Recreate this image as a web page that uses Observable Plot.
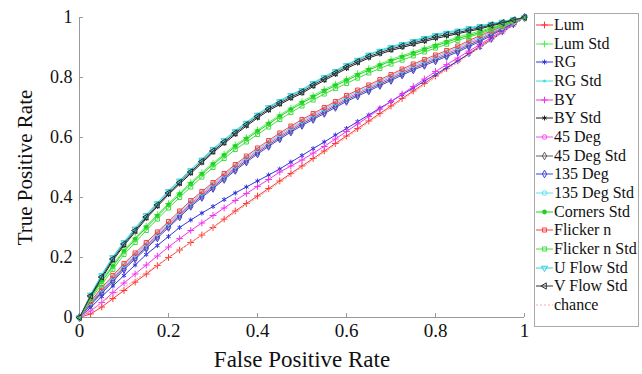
<!DOCTYPE html>
<html><head><meta charset="utf-8">
<script src="https://cdn.jsdelivr.net/npm/d3@7"></script>
<script src="https://cdn.jsdelivr.net/npm/@observablehq/plot@0.6"></script>
<style>
body{margin:0;background:#fff;}
#wrap{position:relative;width:642px;height:374px;font-family:"Liberation Serif","Times New Roman",serif;overflow:hidden;}
#legend{position:absolute;left:534px;top:13px;width:105px;height:314px;border:1px solid #aaa;background:#fff;box-sizing:border-box;}
.row{position:absolute;left:0;height:18px;display:flex;align-items:center;font-family:"Liberation Serif","Times New Roman",serif;font-size:16px;color:#111;white-space:nowrap;}
.row svg{margin-left:1px;margin-right:1px;}
</style></head><body><div id="wrap"><div id="chart"></div><div id="legend"></div></div>
<script>
// False positive rate grid shared by every curve
const fpr = [0,0.025,0.05,0.075,0.10,0.125,0.15,0.175,0.20,0.225,0.25,0.275,0.30,0.325,0.35,0.375,0.40,0.425,0.45,0.475,0.50,
             0.525,0.55,0.575,0.60,0.625,0.65,0.675,0.70,0.725,0.75,0.775,0.80,0.825,0.85,0.875,0.90,0.925,0.95,0.975,1];
// True positive rate for each feature
const lum        = [0,.012,.035,.063,.09,.118,.145,.173,.20,.225,.25,.275,.30,.328,.355,.38,.405,.43,.455,.48,.505,.53,.555,.58,.605,.63,.655,.68,.705,.73,.755,.78,.805,.83,.855,.88,.905,.928,.952,.976,1];
const lumStd     = [0,.068,.125,.175,.225,.265,.305,.343,.38,.415,.45,.483,.515,.545,.575,.60,.625,.65,.675,.698,.72,.74,.76,.778,.795,.813,.83,.845,.86,.873,.885,.898,.91,.922,.935,.945,.955,.966,.977,.989,1];
const rg         = [0,.033,.07,.105,.14,.175,.21,.24,.27,.30,.325,.348,.37,.393,.415,.435,.455,.475,.495,.518,.54,.563,.585,.608,.63,.653,.675,.698,.72,.743,.765,.788,.81,.833,.855,.878,.90,.925,.95,.975,1];
const rgStd      = [0,.078,.143,.203,.253,.298,.343,.383,.423,.458,.493,.528,.563,.593,.623,.651,.678,.703,.723,.743,.76,.783,.803,.823,.843,.861,.878,.891,.903,.913,.923,.933,.943,.951,.958,.966,.973,.98,.987,.994,1];
const by         = [0,.022,.05,.083,.115,.145,.175,.205,.235,.263,.29,.315,.34,.365,.39,.413,.437,.46,.485,.505,.525,.548,.57,.595,.62,.645,.67,.695,.72,.745,.77,.795,.82,.843,.865,.888,.91,.933,.955,.978,1];
const byStd      = [0,.07,.13,.19,.24,.285,.33,.37,.41,.445,.48,.515,.55,.58,.61,.638,.665,.69,.71,.73,.747,.77,.79,.81,.83,.848,.865,.878,.89,.90,.91,.92,.93,.938,.946,.954,.962,.972,.981,.991,1];
const deg45      = [0,.048,.09,.13,.17,.205,.24,.275,.31,.345,.38,.41,.44,.47,.50,.528,.555,.58,.605,.628,.65,.67,.69,.71,.73,.748,.765,.783,.80,.818,.835,.85,.865,.88,.895,.913,.93,.948,.965,.983,1];
const deg45Std   = [0,.045,.085,.125,.165,.20,.235,.27,.305,.34,.375,.405,.435,.465,.495,.523,.55,.575,.60,.623,.645,.665,.685,.705,.725,.743,.76,.778,.795,.813,.83,.845,.86,.875,.89,.908,.925,.944,.962,.981,1];
const deg135     = [0,.042,.08,.12,.16,.195,.23,.265,.30,.335,.37,.40,.43,.46,.49,.518,.545,.57,.595,.618,.64,.66,.68,.70,.72,.738,.755,.773,.79,.808,.825,.84,.855,.87,.885,.903,.92,.94,.96,.98,1];
const deg135Std  = [0,.05,.095,.135,.175,.21,.245,.28,.315,.35,.385,.415,.445,.475,.505,.533,.56,.585,.61,.633,.655,.675,.695,.715,.735,.753,.77,.788,.805,.823,.84,.855,.87,.885,.90,.918,.935,.952,.967,.984,1];
const cornersStd = [0,.065,.12,.17,.22,.26,.30,.338,.375,.41,.445,.478,.51,.54,.57,.595,.62,.645,.67,.693,.715,.735,.755,.773,.79,.808,.825,.84,.855,.868,.88,.893,.905,.918,.93,.94,.95,.963,.975,.988,1];
const flicker    = [0,.053,.10,.14,.18,.215,.25,.285,.32,.355,.39,.42,.45,.48,.51,.538,.565,.59,.615,.638,.66,.68,.70,.72,.74,.758,.775,.793,.81,.828,.845,.86,.875,.89,.905,.923,.94,.955,.97,.985,1];
const flickerStd = [0,.06,.11,.16,.21,.25,.29,.328,.365,.40,.435,.468,.50,.53,.56,.585,.61,.635,.66,.683,.705,.725,.745,.763,.78,.798,.815,.83,.845,.858,.872,.885,.898,.911,.924,.935,.946,.959,.972,.986,1];
const uFlowStd   = [0,.075,.14,.20,.25,.295,.34,.38,.42,.455,.49,.525,.56,.59,.62,.648,.675,.70,.72,.74,.757,.78,.80,.82,.84,.858,.875,.888,.90,.91,.92,.93,.94,.948,.955,.963,.97,.978,.985,.993,1];
const vFlowStd   = [0,.072,.135,.195,.245,.29,.335,.375,.415,.45,.485,.52,.555,.585,.615,.643,.67,.695,.715,.735,.752,.775,.795,.815,.835,.853,.87,.883,.895,.905,.915,.925,.935,.943,.95,.958,.966,.975,.983,.992,1];
const chanceX    = [0,1];
const chanceY    = [0,1];
const xTicks = [0,0.2,0.4,0.6,0.8,1];
const yTicks = [0,0.2,0.4,0.6,0.8,1];

const series = [
  {name:"Lum", tpr:lum, color:"#ff3535", symbol:"plus", filled:false},
  {name:"Lum Std", tpr:lumStd, color:"#55ee55", symbol:"plus", filled:false},
  {name:"RG", tpr:rg, color:"#3535e0", symbol:"asterisk", filled:false},
  {name:"RG Std", tpr:rgStd, color:"#40e0e0", symbol:"circle", filled:true, r:1.5},
  {name:"BY", tpr:by, color:"#f035f0", symbol:"plus", filled:false},
  {name:"BY Std", tpr:byStd, color:"#202020", symbol:"asterisk", filled:false},
  {name:"45 Deg", tpr:deg45, color:"#f050f0", symbol:"circle", filled:false},
  {name:"45 Deg Std", tpr:deg45Std, color:"#606060", symbol:"diamond", filled:false},
  {name:"135 Deg", tpr:deg135, color:"#4040e0", symbol:"diamond", filled:false},
  {name:"135 Deg Std", tpr:deg135Std, color:"#60e0f0", symbol:"circle", filled:false},
  {name:"Corners Std", tpr:cornersStd, color:"#20d020", symbol:"circle", filled:true, r:2.4},
  {name:"Flicker n", tpr:flicker, color:"#ff4040", symbol:"square", filled:false},
  {name:"Flicker n Std", tpr:flickerStd, color:"#40e040", symbol:"square", filled:false},
  {name:"U Flow Std", tpr:uFlowStd, color:"#30d0e0", symbol:"triangle", filled:false, rotate:180},
  {name:"V Flow Std", tpr:vFlowStd, color:"#303030", symbol:"triangle", filled:false, rotate:-90}
];

const marks = [];
const fmt = d => String(+(+d).toFixed(1));
marks.push(Plot.ruleY([0], {stroke:"#999"}));
marks.push(Plot.ruleX([0], {stroke:"#999"}));
marks.push(Plot.axisX({ticks:xTicks, tickSize:-4, stroke:"#999", tickFormat:() => "", label:null}));
marks.push(Plot.axisY({ticks:yTicks, tickSize:-4, stroke:"#999", tickFormat:() => "", label:null}));
marks.push(Plot.axisX({ticks:xTicks, tickSize:0, tickPadding:6, tickFormat:fmt, fontSize:19, fill:"#111", label:null}));
marks.push(Plot.axisY({ticks:yTicks, tickSize:0, tickPadding:7, tickFormat:fmt, fontSize:18, fill:"#111", label:null}));
marks.push(Plot.axisX({ticks:[], label:"False Positive Rate", labelArrow:"none", labelAnchor:"center", labelOffset:49, fontSize:23, fill:"#111"}));
marks.push(Plot.axisY({ticks:[], label:"True Positive Rate", labelArrow:"none", labelAnchor:"center", labelOffset:62, fontSize:21, fill:"#111"}));

for (const s of series) {
  const rows = fpr.map((x, i) => ({x, y: s.tpr[i]}));
  marks.push(Plot.line(rows, {x:"x", y:"y", stroke:s.color, strokeWidth:1}));
  marks.push(Plot.dot(rows, {x:"x", y:"y", symbol:s.symbol, r:s.r ?? 2.3,
    stroke: s.filled ? "none" : s.color, fill: s.filled ? s.color : "none",
    strokeWidth:1, rotate: s.rotate ?? 0}));
}
const chanceRows = chanceX.map((x, i) => ({x, y: chanceY[i]}));
marks.push(Plot.line(chanceRows, {x:"x", y:"y", stroke:"#f0b0a0", strokeWidth:1, strokeDasharray:"2,2"}));

const chart = Plot.plot({
  width:642, height:374,
  marginLeft:79, marginRight:118, marginTop:17, marginBottom:57,
  x:{domain:[0,1]}, y:{domain:[0,1]},
  style:{fontFamily:'"Liberation Serif","Times New Roman",serif', background:"white", color:"#111"},
  marks
});
document.getElementById("chart").appendChild(chart);

// Legend
const symMap = {plus:d3.symbolPlus, asterisk:d3.symbolAsterisk, circle:d3.symbolCircle, diamond:d3.symbolDiamond, square:d3.symbolSquare, triangle:d3.symbolTriangle};
const legend = document.getElementById("legend");
const legendItems = series.concat([{name:"chance", color:"#f0b0a0", dashed:true}]);
legendItems.forEach((s, i) => {
  const row = document.createElement("div");
  row.className = "row";
  row.style.top = (11 + i * 18.67 - 9) + "px";
  const svg = d3.create("svg").attr("width", 17).attr("height", 12);
  svg.append("line").attr("x1", 0).attr("x2", 17).attr("y1", 6).attr("y2", 6)
    .attr("stroke", s.color).attr("stroke-dasharray", s.dashed ? "2,2" : null);
  if (!s.dashed) {
    const rr = s.r ?? 2.3;
    svg.append("path").attr("d", d3.symbol(symMap[s.symbol], Math.PI * rr * rr)())
      .attr("transform", `translate(8.5,6) rotate(${s.rotate ?? 0})`)
      .attr("fill", s.filled ? s.color : "none").attr("stroke", s.filled ? "none" : s.color);
  }
  row.appendChild(svg.node());
  const t = document.createElement("span");
  t.textContent = s.name;
  row.appendChild(t);
  legend.appendChild(row);
});
</script></body></html>
